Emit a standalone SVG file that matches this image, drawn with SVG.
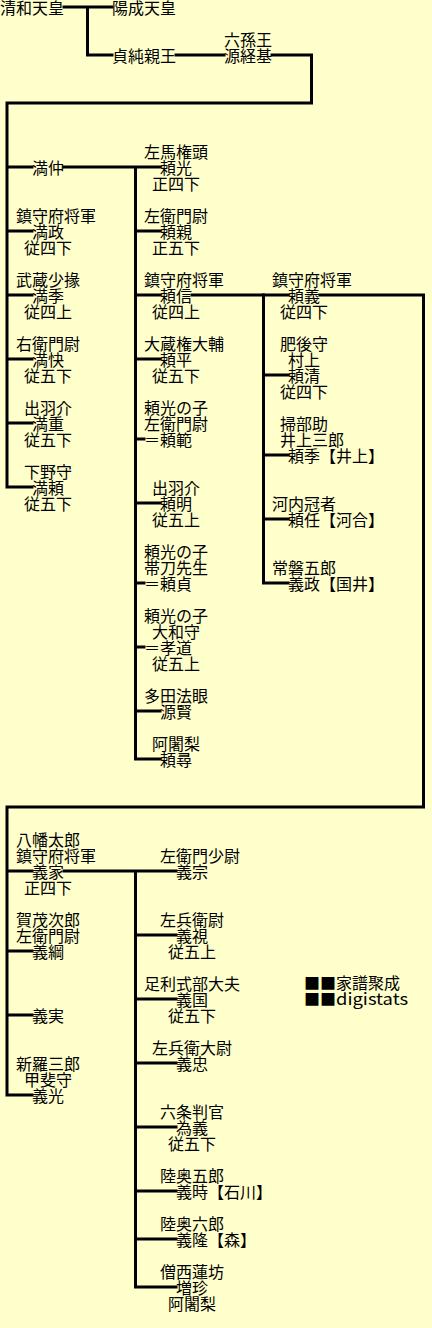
<svg xmlns="http://www.w3.org/2000/svg" width="432" height="1328" viewBox="0 0 432 1328">
<style>
text{font-family:"Noto Sans CJK JP","Noto Sans CJK SC",sans-serif;font-size:16px;fill:#000}
.ln{fill:none;stroke:#000;stroke-width:3;stroke-linecap:square;stroke-linejoin:miter}
</style>
<rect x="0" y="0" width="432" height="1328" fill="#FFFFCC"/>
<g id="connectors" class="ln">
<path d="M64,7H112M87.5,7V55H112M176,55H224"/>
<path d="M272,55H311.5V103H7V487H32M7,167H32M7,231H32M7,295H32M7,359H32M7,423H32"/>
<path d="M64,167H160M135.5,167V759H160M135.5,231H160M135.5,295H160M135.5,359H160M135.5,439H144M135.5,503H160M135.5,583H144M135.5,647H144M135.5,711H160"/>
<path d="M192,295H288M320,295H423.5V807H7V1095H32M7,871H32M7,951H32M7,1015H32"/>
<path d="M263.5,295V583H288M263.5,375H288M263.5,455H288M263.5,519H288"/>
<path d="M64,871H176M135.5,871V1287H176M135.5,935H176M135.5,999H176M135.5,1063H176M135.5,1127H176M135.5,1191H176M135.5,1239H176"/>
</g>
<g id="n-seiwa"><text x="0" y="14">清和天皇</text></g>
<g id="n-yozei"><text x="112" y="14">陽成天皇</text></g>
<g id="n-sadazumi"><text x="112" y="62">貞純親王</text></g>
<g id="n-tsunemoto"><text x="224" y="46">六孫王</text><text x="224" y="62">源経基</text></g>
<g id="n-mitsunaka"><text x="32" y="174">満仲</text></g>
<g id="n-mitsumasa"><text x="16" y="222">鎮守府将軍</text><text x="32" y="238">満政</text><text x="24" y="254">従四下</text></g>
<g id="n-mitsusue"><text x="16" y="286">武蔵少掾</text><text x="32" y="302">満季</text><text x="24" y="318">従四上</text></g>
<g id="n-mitsuyoshi"><text x="16" y="350">右衛門尉</text><text x="32" y="366">満快</text><text x="24" y="382">従五下</text></g>
<g id="n-mitsushige"><text x="24" y="414">出羽介</text><text x="32" y="430">満重</text><text x="24" y="446">従五下</text></g>
<g id="n-mitsuyori"><text x="24" y="478">下野守</text><text x="32" y="494">満頼</text><text x="24" y="510">従五下</text></g>
<g id="n-yorimitsu"><text x="144" y="158">左馬権頭</text><text x="160" y="174">頼光</text><text x="152" y="190">正四下</text></g>
<g id="n-yorichika"><text x="144" y="222">左衛門尉</text><text x="160" y="238">頼親</text><text x="152" y="254">正五下</text></g>
<g id="n-yorinobu"><text x="144" y="286">鎮守府将軍</text><text x="160" y="302">頼信</text><text x="152" y="318">従四上</text></g>
<g id="n-yorihira"><text x="144" y="350">大蔵権大輔</text><text x="160" y="366">頼平</text><text x="152" y="382">従五下</text></g>
<g id="n-yorinori"><text x="144" y="414">頼光の子</text><text x="144" y="430">左衛門尉</text><text x="144" y="446">＝頼範</text></g>
<g id="n-yoriakira"><text x="152" y="494">出羽介</text><text x="160" y="510">頼明</text><text x="152" y="526">従五上</text></g>
<g id="n-yorisada"><text x="144" y="558">頼光の子</text><text x="144" y="574">帯刀先生</text><text x="144" y="590">＝頼貞</text></g>
<g id="n-takamichi"><text x="144" y="622">頼光の子</text><text x="152" y="638">大和守</text><text x="144" y="654">＝孝道</text><text x="152" y="670">従五上</text></g>
<g id="n-genken"><text x="144" y="702">多田法眼</text><text x="160" y="718">源賢</text></g>
<g id="n-yorihiro"><text x="152" y="750">阿闍梨</text><text x="160" y="766">頼尋</text></g>
<g id="n-yoriyoshi"><text x="272" y="286">鎮守府将軍</text><text x="288" y="302">頼義</text><text x="280" y="318">従四下</text></g>
<g id="n-yorikiyo"><text x="280" y="350">肥後守</text><text x="288" y="366">村上</text><text x="288" y="382">頼清</text><text x="280" y="398">従四下</text></g>
<g id="n-yorisue"><text x="280" y="430">掃部助</text><text x="280" y="446">井上三郎</text><text x="288" y="462">頼季【井上】</text></g>
<g id="n-yoritou"><text x="272" y="510">河内冠者</text><text x="288" y="526">頼任【河合】</text></g>
<g id="n-yoshimasa"><text x="272" y="574">常磐五郎</text><text x="288" y="590">義政【国井】</text></g>
<g id="n-yoshiie"><text x="16" y="846">八幡太郎</text><text x="16" y="862">鎮守府将軍</text><text x="32" y="878">義家</text><text x="24" y="894">正四下</text></g>
<g id="n-yoshitsuna"><text x="16" y="926">賀茂次郎</text><text x="16" y="942">左衛門尉</text><text x="32" y="958">義綱</text></g>
<g id="n-yoshizane"><text x="32" y="1022">義実</text></g>
<g id="n-yoshimitsu"><text x="16" y="1070">新羅三郎</text><text x="24" y="1086">甲斐守</text><text x="32" y="1102">義光</text></g>
<g id="n-yoshimune"><text x="160" y="862">左衛門少尉</text><text x="176" y="878">義宗</text></g>
<g id="n-yoshimi"><text x="160" y="926">左兵衛尉</text><text x="176" y="942">義視</text><text x="168" y="958">従五上</text></g>
<g id="n-yoshikuni"><text x="144" y="990">足利式部大夫</text><text x="176" y="1006">義国</text><text x="168" y="1022">従五下</text></g>
<g id="n-yoshitada"><text x="152" y="1054">左兵衛大尉</text><text x="176" y="1070">義忠</text></g>
<g id="n-tameyoshi"><text x="160" y="1118">六条判官</text><text x="176" y="1134">為義</text><text x="168" y="1150">従五下</text></g>
<g id="n-yoshitoki"><text x="160" y="1182">陸奥五郎</text><text x="176" y="1198">義時【石川】</text></g>
<g id="n-yoshitaka"><text x="160" y="1230">陸奥六郎</text><text x="176" y="1246">義隆【森】</text></g>
<g id="n-zouchin"><text x="160" y="1278">僧西蓮坊</text><text x="176" y="1294">増珍</text><text x="168" y="1310">阿闍梨</text></g>
<g id="credit"><text x="304" y="989">■■家譜聚成</text><text x="304" y="1005">■■<tspan x="336" textLength="72" lengthAdjust="spacingAndGlyphs">digistats</tspan></text></g>
</svg>
